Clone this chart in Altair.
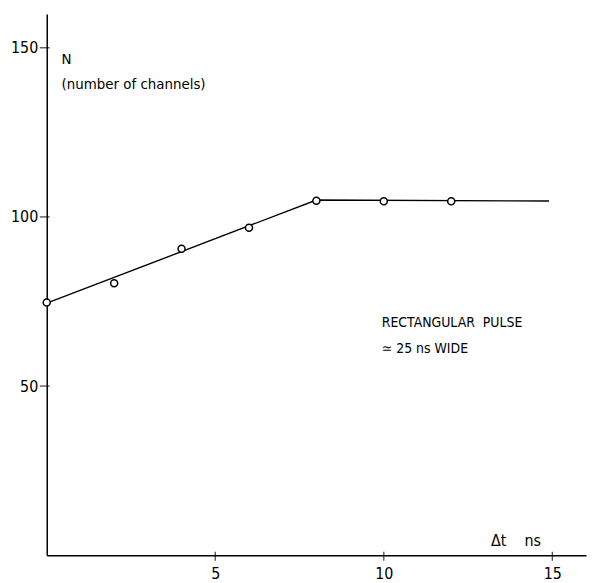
import altair as alt
import pandas as pd

# measured points
pt_x = [0, 2, 4, 6, 8, 10, 12]
pt_y = [74.7, 80.4, 90.6, 96.8, 104.8, 104.6, 104.6]
# fitted line
line_x = [0, 8, 14.9]
line_y = [74.5, 105, 104.7]
# axis ticks
x_ticks = [5, 10, 15]
y_ticks = [50, 100, 150]

FONT = "DejaVu Sans Condensed, DejaVu Sans"
NB = "\u00a0"

pts = pd.DataFrame({"x": pt_x, "y": pt_y})
ln = pd.DataFrame({"x": line_x, "y": line_y})
xt = pd.DataFrame({"v": x_ticks})
yt = pd.DataFrame({"v": y_ticks})

xs = alt.Scale(domain=[0, 16], nice=False, zero=False)
ys = alt.Scale(domain=[0, 160], nice=False, zero=False)

xaxis = alt.Axis(values=x_ticks, title=None, grid=False, ticks=False, domainColor="black",
                 domainWidth=1.5, labelFont=FONT, labelFontSize=16, labelColor="black",
                 labelPadding=10)
yaxis = alt.Axis(values=y_ticks, title=None, grid=False, ticks=False, domainColor="black",
                 domainWidth=1.5, labelFont=FONT, labelFontSize=16, labelColor="black",
                 labelPadding=9)

line = alt.Chart(ln).mark_line(color="black", strokeWidth=1.4).encode(
    x=alt.X("x:Q", scale=xs, axis=xaxis),
    y=alt.Y("y:Q", scale=ys, axis=yaxis),
)
points = alt.Chart(pts).mark_point(shape="circle", size=50, filled=False, fill="white",
                                   fillOpacity=1, color="black", strokeWidth=1.5, opacity=1).encode(
    x=alt.X("x:Q", scale=xs), y=alt.Y("y:Q", scale=ys))

xtick = alt.Chart(xt).mark_tick(color="black", size=9, thickness=1.3, orient="vertical").encode(
    x=alt.X("v:Q", scale=xs), y=alt.value(546))
ytick = alt.Chart(yt).mark_tick(color="black", size=10, thickness=1.3, orient="horizontal").encode(
    y=alt.Y("v:Q", scale=ys), x=alt.value(-2))

def label(txt, x, y, size=15):
    return alt.Chart(pd.DataFrame({"t": [txt]})).mark_text(
        align="left", baseline="middle", font=FONT, fontSize=size, color="black").encode(
        x=alt.datum(x, scale=xs), y=alt.datum(y, scale=ys), text="t:N")

texts = [
    label("N", 0.44, 146.8),
    label("(number of channels)", 0.44, 139.4),
    label("RECTANGULAR" + NB + NB + "PULSE", 9.94, 68.5, 14),
    label("≃ 25 ns WIDE", 9.94, 60.9, 14),
    label("Δt" + NB * 4 + "ns", 13.18, 4.1, 16),
]

chart = alt.layer(line, points, xtick, ytick, *texts).properties(
    width=543, height=545,
    autosize=alt.AutoSizeParams(type="none"),
    padding={"left": 39, "top": 4, "right": 5, "bottom": 28},
).configure_view(stroke=None)

chart.save("out.html", embed_options={"renderer": "svg", "actions": False})
